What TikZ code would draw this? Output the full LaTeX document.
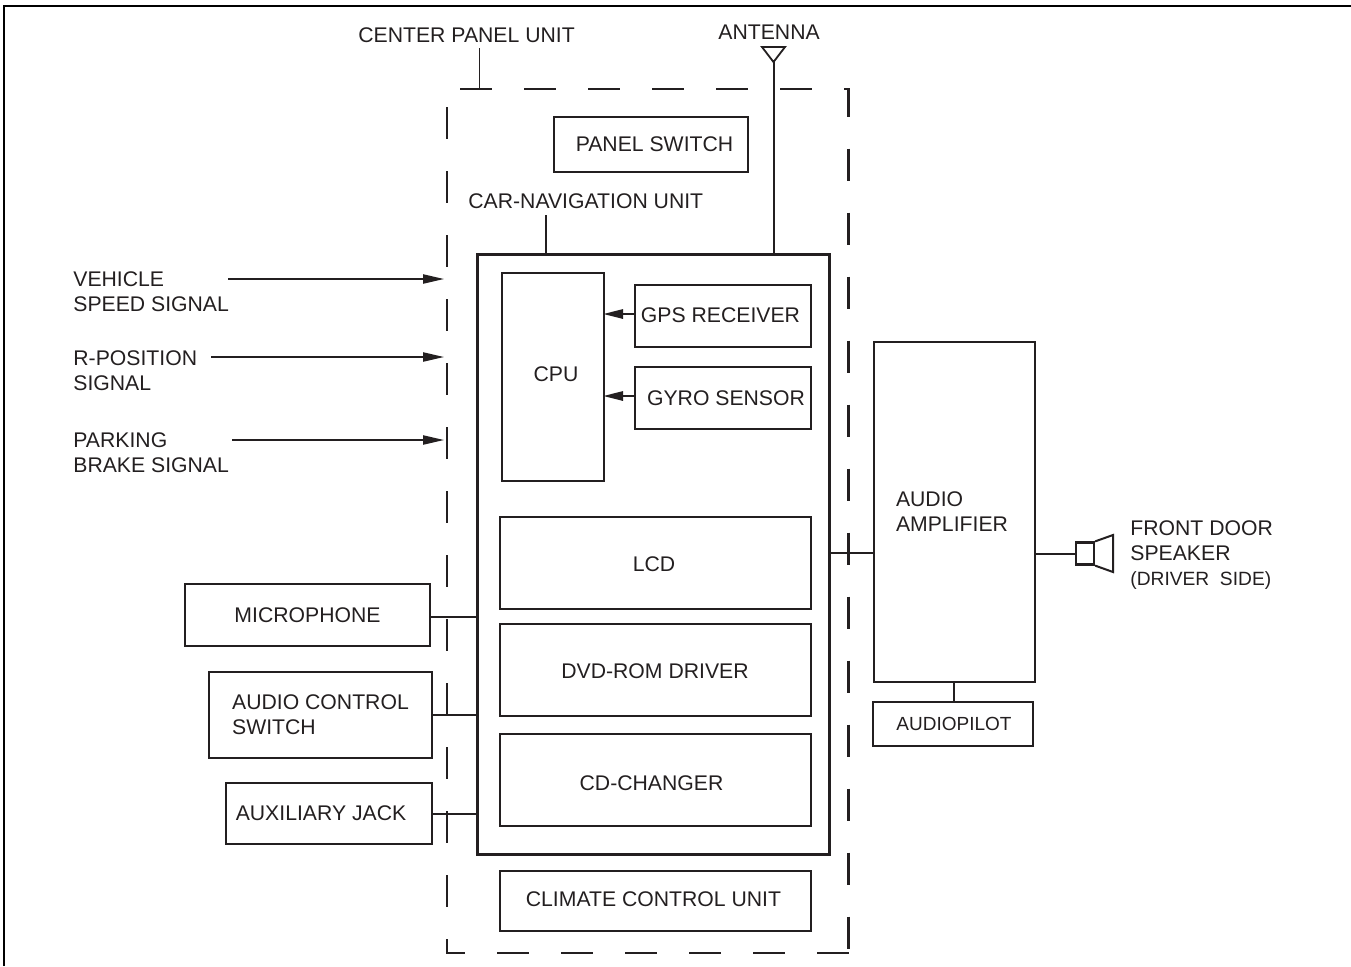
\documentclass[tikz,border=0pt]{standalone}
\usepackage{fontspec}
\setmainfont{Liberation Sans}
\usetikzlibrary{arrows.meta, calc}
\definecolor{cInk}{RGB}{35,31,32}
\newcommand{\nudge}[2]{\raisebox{#1}[\height][\depth]{#2}}
\tikzset{
	blk/.style      ={rectangle, draw=cInk, line width=1.1pt, align=left, inner sep=0pt, text=cInk},
	lbl/.style      ={anchor=west, align=left, inner sep=0pt, text=cInk},
	wire/.style     ={draw=cInk, line width=1pt},
	leader/.style   ={draw=cInk, line width=0.7pt},
	sig/.style      ={draw=cInk, line width=0.8pt, -{Triangle[length=10.5pt, width=4.6pt]}},
	sigin/.style    ={draw=cInk, line width=1.2pt, shorten >=-1pt, -{Triangle[length=10pt, width=4.6pt]}},
	unitline/.style ={draw=cInk, line width=1.3pt, dash pattern=on 16pt off 16pt},
}

\begin{document}
\begin{tikzpicture}[x=0.5pt, y=-0.5pt, font=\fontsize{10.6}{12.5}\selectfont]
	\useasboundingbox (0,0) rectangle (1351,966);
	% sheet outline
	\draw[black, line width=1pt] (3.5,966) -- (3.5,6) -- (1351,6);
	% center panel unit
	\coordinate (ctl) at (460,89);
	\coordinate (ctr) at (848.5,89);
	\coordinate (cbr) at (848.5,953);
	\coordinate (cbl) at (447,953);
	\coordinate (cltop) at (447,107);
	\draw[unitline] (ctl) -- (ctr) -- ($(cbr)+(0,-4)$);
	\draw[unitline] (cbr) -- (cbl) -- (cltop);
	\node[lbl] (panellbl) at (358,35) {CENTER PANEL UNIT};
	\coordinate (panelfoot) at (479.5,48);
	\draw[leader] (panelfoot) -- (panelfoot |- ctl);
	\node[blk, minimum width=97pt, minimum height=27.5pt] (pswitch) at (651,144.5) {\hspace*{3.5pt}PANEL SWITCH};
	% navigation unit
	\node[blk, line width=1.5pt, minimum width=176pt, minimum height=300pt] (nav) at (653,554) {};
	\node[lbl] (navlbl) at (468,201) {CAR-NAVIGATION UNIT};
	\coordinate (navfoot) at (546,215);
	\draw[leader] (navfoot) -- (navfoot |- nav.north);
	\node[blk, minimum width=51pt, minimum height=104pt] (cpu) at (553,377) {\hspace*{3pt}\nudge{1.5pt}{CPU}};
	\node[blk, minimum width=88pt, minimum height=31pt] (gps) at (723,316) {\nudge{0.5pt}{GPS RECEIVER}\hspace*{2.5pt}};
	\node[blk, minimum width=88pt, minimum height=31pt] (gyro) at (723,398) {\hspace*{3pt}GYRO SENSOR};
	\foreach \n/\y/\h/\t in {lcd/563/46/\nudge{-0.5pt}{LCD}\hspace*{1.5pt}, dvd/670/46/\nudge{-0.5pt}{DVD-ROM DRIVER}\hspace*{0.5pt}, cdc/780/46/\nudge{-1.5pt}{CD-CHANGER}\hspace*{4pt}, climate/901/30/\nudge{1pt}{CLIMATE CONTROL UNIT}\hspace*{2pt}} {
		\node[blk, minimum width=155.5pt, minimum height=\h pt] (\n) at (655.5,\y) {\t};
	}
	\draw[sigin] (gps.west |- 0,314) -- (cpu.east |- 0,314);
	\draw[sigin] (gyro.west |- 0,396) -- (cpu.east |- 0,396);
	% antenna
	\coordinate (antl) at (762,47);
	\coordinate (antr) at (785,47);
	\coordinate (antp) at (773.5,62);
	\draw[cInk, line width=0.9pt] (antl) -- (antr) -- (antp) -- cycle;
	\draw[wire] (antp) -- (antp |- nav.north);
	\node[lbl] (antlbl) at (718,32) {ANTENNA};
	% signals
	\node[lbl] (vspeed) at (73,291.5) {VEHICLE\\SPEED SIGNAL};
	\node[lbl] (rpos) at (73,370.5) {R-POSITION\\SIGNAL};
	\node[lbl] (pbrake) at (73,452.5) {PARKING\\BRAKE SIGNAL};
	\foreach \x/\y/\n in {228/279/a, 211/357/b, 232/440/c} {
		\coordinate (s\n) at (\x,\y);
		\coordinate (e\n) at (444,\y);
		\draw[sig] (s\n) -- (e\n);
	}
	% switches and jacks on the left
	\node[blk, minimum width=122.5pt, minimum height=31pt] (mic) at (307.5,615) {MICROPHONE};
	\node[blk, minimum width=111.5pt, minimum height=43pt] (acs) at (320.5,715) {AUDIO CONTROL\\SWITCH};
	\node[blk, minimum width=103pt, minimum height=30.5pt] (aux) at (329,813.5) {AUXILIARY JACK\hspace*{8pt}};
	\draw[wire] (mic.east |- 0,617) -- (nav.west |- 0,617);
	\draw[wire] (acs.east) -- (acs.east -| nav.west);
	\draw[wire] (aux.east) -- (aux.east -| nav.west);
	% amplifier and speaker
	\node[blk, minimum width=80.5pt, minimum height=170pt] (amp) at (954.5,512) {AUDIO\\AMPLIFIER\hspace*{2.5pt}};
	\node[blk, line width=1pt, minimum width=80pt, minimum height=22pt] (apilot) at (953,724) {\hspace*{1pt}\fontsize{9.5}{12}\selectfont AUDIOPILOT};
	\draw[wire] (amp.south -| 954,0) -- (apilot.north -| 954,0);
	\draw[wire] (nav.east |- 0,553) -- (amp.west |- 0,553);
	\node[blk, minimum width=9pt, minimum height=11pt] (spk) at (1085,553.5) {};
	\draw[wire] (amp.east |- spk.west) -- (spk.west);
	\draw[cInk, line width=1pt] (spk.north east) -- (1113,535) -- (1113,572) -- (spk.south east);
	\node[lbl] (spklbl) at (1130,555) {FRONT DOOR\\SPEAKER\\\fontsize{9.6}{12.5}\selectfont (DRIVER\ \ SIDE)};
\end{tikzpicture}
\end{document}
